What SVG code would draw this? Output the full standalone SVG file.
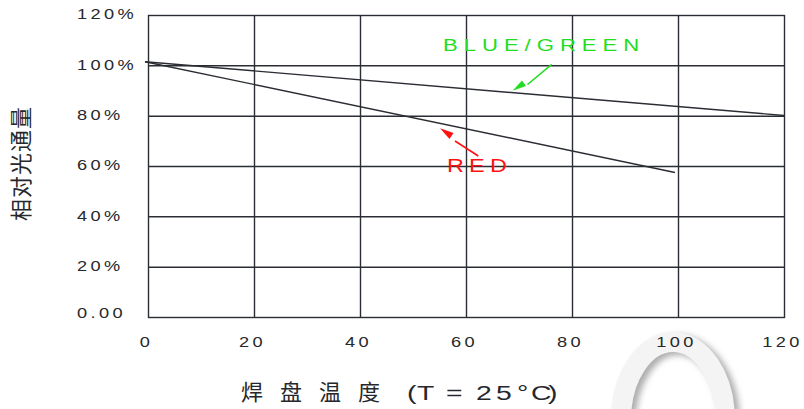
<svg xmlns="http://www.w3.org/2000/svg" width="804" height="409" viewBox="0 0 804 409">
<style>
.grid{stroke:#2a2d33;stroke-width:1.4;fill:none}
.curve{stroke:#2a2d33;stroke-width:1.4;fill:none}
.yl{font-family:"Liberation Sans",Arial,sans-serif;font-size:14px;letter-spacing:2.6px;fill:#26282c}
.xl{font-family:"Liberation Sans",Arial,sans-serif;font-size:14px;letter-spacing:2.6px;fill:#26282c;text-anchor:middle}
.cjk{font-family:"Noto Sans CJK SC","Noto Sans",sans-serif;fill:#26282c}
.lat{font-family:"Liberation Sans",Arial,sans-serif;fill:#26282c}
</style>
<defs>
<filter id="sh" x="-30%" y="-30%" width="160%" height="160%">
<feGaussianBlur stdDeviation="3"/>
</filter>
</defs>
<rect width="804" height="409" fill="#fff"/>
<g id="watermark">
<ellipse cx="678" cy="423" rx="52" ry="78" fill="none" stroke="#9a9a9a" stroke-width="20" filter="url(#sh)" opacity="0.8"/>
<ellipse cx="673" cy="420" rx="52" ry="78" fill="none" stroke="#f4f4f4" stroke-width="20"/>
</g>
<g id="grid">
<rect class="grid" x="148.5" y="15.5" width="636" height="302"/>
<path class="grid" d="M254.5 15.5V317.5M360.5 15.5V317.5M466.5 15.5V317.5M572.5 15.5V317.5M678.5 15.5V317.5"/>
<path class="grid" d="M148.5 65.8H784.5M148.5 116.2H784.5M148.5 166.5H784.5M148.5 216.8H784.5M148.5 267.2H784.5"/>
</g>
<g id="y-labels" transform="translate(77 0) scale(1.3 1)">
<text class="yl" x="0" y="19.5">120%</text>
<text class="yl" x="0" y="70">100%</text>
<text class="yl" x="0" y="120">80%</text>
<text class="yl" x="0" y="170.5">60%</text>
<text class="yl" x="0" y="221">40%</text>
<text class="yl" x="0" y="271">20%</text>
<text class="yl" x="0" y="318.5">0.00</text>
</g>
<g id="x-labels" transform="scale(1.3 1)">
<text class="xl" x="112.7" y="347.5">0</text>
<text class="xl" x="194.2" y="347.5">20</text>
<text class="xl" x="275.8" y="347.5">40</text>
<text class="xl" x="357.3" y="347.5">60</text>
<text class="xl" x="438.8" y="347.5">80</text>
<text class="xl" x="520.4" y="347.5">100</text>
<text class="xl" x="601.9" y="347.5">120</text>
</g>
<g id="connectors">
<path id="blue-green-curve" class="curve" d="M145 61.7L784 115.5"/>
<path id="red-curve" class="curve" d="M145 61.7L675 172.5"/>
<path d="M551.7 64.3L527.5 84.5" stroke="#22dd22" stroke-width="1.6" fill="none"/>
<polygon points="512.5,90.8 522,80.5 526,86" fill="#22dd22"/>
<path d="M478.3 156L455 141" stroke="#ff1111" stroke-width="1.6" fill="none"/>
<polygon points="440,128.3 453.5,133 449.5,139" fill="#ff1111"/>
</g>
<g id="legend-blue-green" transform="translate(443 50.5) scale(1.3 1)">
<text x="0" y="0" font-family="Liberation Sans, Arial, sans-serif" font-size="17" letter-spacing="4.6" fill="#22dd22">BLUE/GREEN</text>
</g>
<g id="legend-red" transform="translate(447 171.5) scale(1.3 1)">
<text x="0" y="0" font-family="Liberation Sans, Arial, sans-serif" font-size="18" letter-spacing="4" fill="#ff1111">RED</text>
</g>
<g id="x-title">
<text class="cjk" x="241" y="400" font-size="22" letter-spacing="17">焊盘温度</text>
<text class="lat" transform="translate(407 400) scale(1.35 1)" font-size="21" x="0 7.4 28.9 51.1 65.9 81.5 91.9 104.4" y="0">(T=25°C)</text>
</g>
<g id="y-title">
<text class="cjk" transform="translate(29,163.5) rotate(-90)" text-anchor="middle" font-size="22" letter-spacing="1">相对光通量</text>
</g>
</svg>
